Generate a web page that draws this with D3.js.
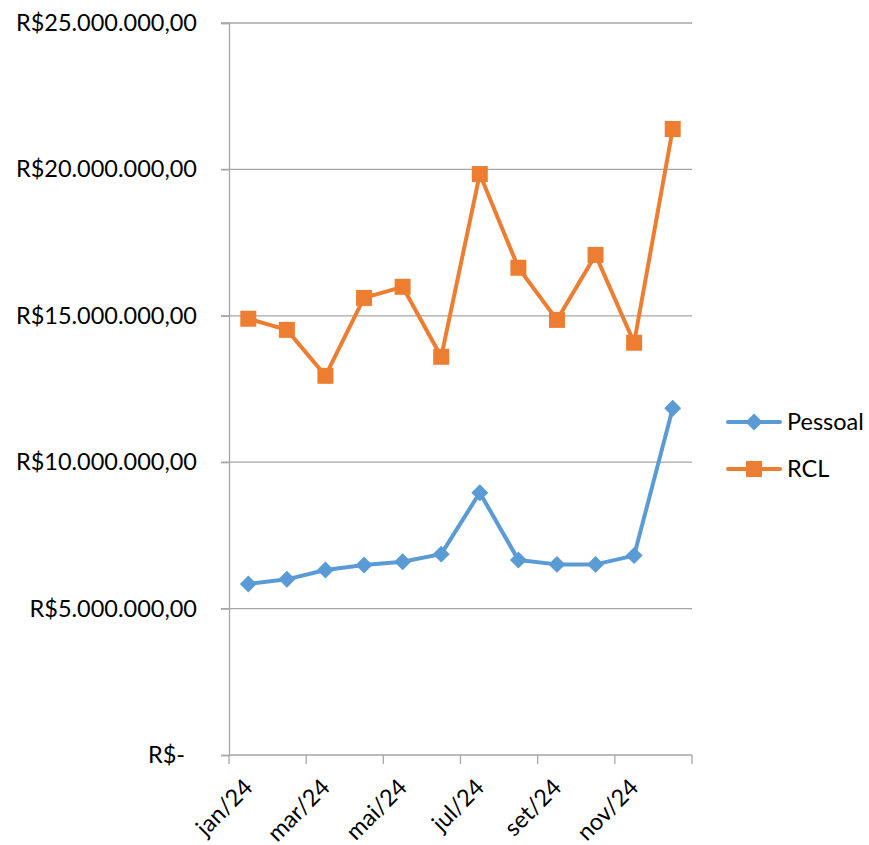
<!DOCTYPE html>
<html>
<head>
<meta charset="utf-8">
<script src="https://cdn.jsdelivr.net/npm/d3@7"></script>
<style>
  html, body { margin: 0; padding: 0; background: #fff; }
  svg text { font-family: Lato, "Open Sans", sans-serif; fill: #000; }
</style>
</head>
<body>
<svg id="chart" width="869" height="845"></svg>
<script>
// Monthly series (R$)
const months = ["jan/24","fev/24","mar/24","abr/24","mai/24","jun/24","jul/24","ago/24","set/24","out/24","nov/24","dez/24"];
const pessoal = [5840000, 6000000, 6320000, 6490000, 6600000, 6860000, 8960000, 6660000, 6510000, 6510000, 6810000, 11840000];
const rcl = [14900000, 14520000, 12950000, 15610000, 15990000, 13600000, 19840000, 16640000, 14860000, 17080000, 14080000, 21380000];
const yTicks = [0, 5000000, 10000000, 15000000, 20000000, 25000000];
const yTickLabels = ["R$-", "R$5.000.000,00", "R$10.000.000,00", "R$15.000.000,00", "R$20.000.000,00", "R$25.000.000,00"];
const seriesNames = ["Pessoal", "RCL"];
const seriesColors = ["#5b9bd5", "#ed7d31"];

const svg = d3.select("#chart");
const plot = { left: 229, right: 692, top: 23, bottom: 755 };
const fontSize = 23.5;

const x = d3.scaleBand().domain(months).range([plot.left, plot.right]);
const y = d3.scaleLinear().domain([0, 25000000]).range([plot.bottom, plot.top]);
const gridColor = "#a6a6a6";

// horizontal gridlines
svg.append("g").selectAll("line").data(yTicks.filter(d => d > 0)).join("line")
  .attr("x1", plot.left - 8).attr("x2", plot.right)
  .attr("y1", d => y(d)).attr("y2", d => y(d))
  .attr("stroke", gridColor).attr("stroke-width", 1.3);

// y axis
const yAxis = d3.axisLeft(y).tickValues(yTicks).tickSize(8).tickPadding(24)
  .tickFormat((d, i) => yTickLabels[i]);
const gy = svg.append("g").attr("transform", `translate(${plot.left},0)`).call(yAxis);
gy.select(".domain").attr("stroke", gridColor).attr("stroke-width", 1.3);
gy.selectAll(".tick line").attr("stroke", gridColor).attr("stroke-width", 1.3);
gy.selectAll(".tick text").attr("font-size", fontSize).attr("font-family", "Lato, 'Open Sans', sans-serif").attr("fill", "#000")
  .attr("dx", d => d === 0 ? -12 : 0);

// x axis: ticks every two months on category boundaries
const boundaryTicks = d3.range(0, months.length + 1, 2);
svg.append("line").attr("x1", plot.left).attr("x2", plot.right).attr("y1", plot.bottom).attr("y2", plot.bottom)
  .attr("stroke", gridColor).attr("stroke-width", 1.3);
svg.append("g").selectAll("line").data(boundaryTicks).join("line")
  .attr("x1", i => plot.left + i * x.step()).attr("x2", i => plot.left + i * x.step())
  .attr("y1", plot.bottom).attr("y2", plot.bottom + 9)
  .attr("stroke", gridColor).attr("stroke-width", 1.3);
svg.append("g").selectAll("text").data(months.filter((d, i) => i % 2 === 0)).join("text")
  .attr("transform", d => `translate(${x(d) + x.bandwidth() / 2},${plot.bottom + 28}) rotate(-45)`)
  .attr("text-anchor", "end").attr("dy", "0.35em")
  .attr("font-size", fontSize)
  .text(d => d);

// lines and markers
const line = d3.line().x((d, i) => x(months[i]) + x.bandwidth() / 2).y(d => y(d));
const diamond = d3.symbol().type(d3.symbolSquare).size(12 * 12);

[pessoal, rcl].forEach((vals, s) => {
  svg.append("path").datum(vals).attr("d", line)
    .attr("fill", "none").attr("stroke", seriesColors[s]).attr("stroke-width", 4)
    .attr("stroke-linejoin", "round");
  const g = svg.append("g");
  vals.forEach((v, i) => {
    const cx = x(months[i]) + x.bandwidth() / 2, cy = y(v);
    if (s === 0) {
      g.append("path").attr("d", diamond()).attr("transform", `translate(${cx},${cy}) rotate(45)`)
        .attr("fill", seriesColors[s]);
    } else {
      g.append("rect").attr("x", cx - 8).attr("y", cy - 8).attr("width", 16).attr("height", 16)
        .attr("fill", seriesColors[s]);
    }
  });
});

// legend
const legendY = [422, 469];
seriesNames.forEach((name, s) => {
  const g = svg.append("g").attr("transform", `translate(728,${legendY[s]})`);
  g.append("line").attr("x1", 0).attr("x2", 52).attr("stroke", seriesColors[s]).attr("stroke-width", 4).attr("stroke-linecap", "round");
  if (s === 0) {
    g.append("path").attr("d", diamond()).attr("transform", "translate(26,0) rotate(45)").attr("fill", seriesColors[s]);
  } else {
    g.append("rect").attr("x", 18).attr("y", -8).attr("width", 16).attr("height", 16).attr("fill", seriesColors[s]);
  }
  g.append("text").attr("x", 59).attr("dy", "0.35em").attr("font-size", fontSize).text(name);
});
</script>
</body>
</html>
